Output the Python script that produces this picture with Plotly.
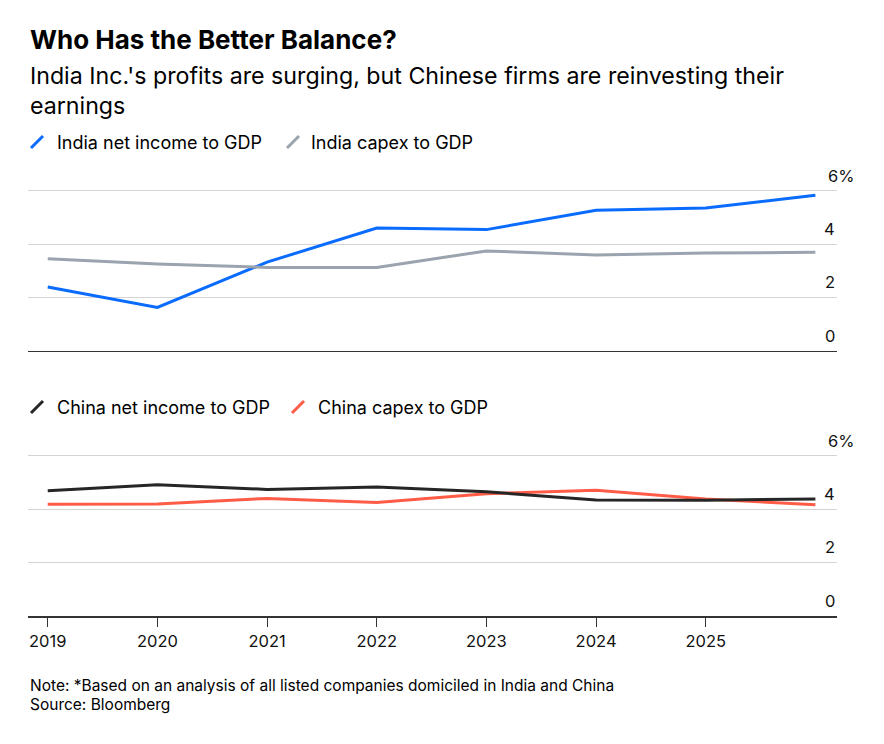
import plotly.graph_objects as go

# values (percent of GDP)
years = [2019, 2020, 2021, 2022, 2023, 2024, 2025, 2026]
tick_years = [2019, 2020, 2021, 2022, 2023, 2024, 2025]
india_net_income = [2.39, 1.62, 3.32, 4.60, 4.54, 5.27, 5.35, 5.83]
india_capex = [3.45, 3.25, 3.12, 3.12, 3.74, 3.59, 3.66, 3.69]
china_net_income = [4.69, 4.91, 4.74, 4.83, 4.65, 4.34, 4.33, 4.38]
china_capex = [4.18, 4.19, 4.40, 4.25, 4.58, 4.71, 4.38, 4.16]
y_ticks = [0, 2, 4, 6]

# page has an 8px body margin, so figure is a bit smaller than the window
OFF = 8
W, H = 868, 728
L = 28 - OFF
R = W - (837 - OFF)
FONT = 'Inter, Liberation Sans, Arial, sans-serif'

BLUE = '#0a6cff'
GREY = '#9aa3ae'
BLACK = '#262626'
RED = '#ff5c47'


def px(x):
    # screenshot pixel -> paper x
    return (x - OFF - L) / (W - L - R)


def py(y):
    return (H - (y - OFF)) / H


fig = go.Figure()
fig.add_trace(go.Scatter(x=years, y=india_net_income, mode='lines', name='India net income to GDP',
                         line=dict(color=BLUE, width=3), xaxis='x', yaxis='y'))
fig.add_trace(go.Scatter(x=years, y=india_capex, mode='lines', name='India capex to GDP',
                         line=dict(color=GREY, width=3), xaxis='x', yaxis='y'))
fig.add_trace(go.Scatter(x=years, y=china_capex, mode='lines', name='China capex to GDP',
                         line=dict(color=RED, width=3), xaxis='x2', yaxis='y2'))
fig.add_trace(go.Scatter(x=years, y=china_net_income, mode='lines', name='China net income to GDP',
                         line=dict(color=BLACK, width=3), xaxis='x2', yaxis='y2'))

xr = [2018.82, 2026.197]
yr = [0, 6.5]

fig.update_layout(
    width=W, height=H,
    margin=dict(l=L, r=R, t=0, b=0),
    paper_bgcolor='white', plot_bgcolor='white',
    showlegend=False,
    font=dict(family=FONT, color='#000000'),
    xaxis=dict(domain=[0, 1], range=xr, anchor='y', showgrid=False, showticklabels=False,
               showline=True, linecolor='#333333', linewidth=1, zeroline=False, ticks=''),
    yaxis=dict(domain=[py(350.6), py(350.6 - 6.5 * 26.65)], range=yr, anchor='x',
               tickvals=y_ticks, showticklabels=False, gridcolor='#d4d4d4', gridwidth=1,
               zeroline=False, showline=False),
    xaxis2=dict(domain=[0, 1], range=xr, anchor='y2', showgrid=False,
                tickvals=tick_years, ticktext=[str(y) for y in tick_years],
                ticks='outside', ticklen=9, tickwidth=1, tickcolor='#333333',
                tickfont=dict(size=16.5, family=FONT, color='#111111'),
                showline=True, linecolor='#333333', linewidth=2, zeroline=False),
    yaxis2=dict(domain=[py(615.7), py(615.7 - 6.5 * 26.65)], range=yr, anchor='x2',
                tickvals=y_ticks, showticklabels=False, gridcolor='#d4d4d4', gridwidth=1,
                zeroline=False, showline=False),
)

annotations = []
# title and subtitle
annotations.append(dict(text='<b>Who Has the Better Balance?</b>', x=px(28), y=py(40),
                        xanchor='left', yanchor='middle', font=dict(size=26)))
annotations.append(dict(text="India Inc.'s profits are surging, but Chinese firms are reinvesting their",
                        x=px(28), y=py(76), xanchor='left', yanchor='middle', font=dict(size=23.2)))
annotations.append(dict(text='earnings', x=px(28), y=py(106), xanchor='left', yanchor='middle',
                        font=dict(size=23.2)))

# legends
legend_items = [
    ('India net income to GDP', BLUE, 31, 55, 142),
    ('India capex to GDP', GREY, 287, 309, 142),
    ('China net income to GDP', BLACK, 31, 55, 407),
    ('China capex to GDP', RED, 292, 316, 407),
]
shapes = []
for label, col, ix, tx, cy in legend_items:
    annotations.append(dict(text=label, x=px(tx), y=py(cy), xanchor='left', yanchor='middle',
                            font=dict(size=18)))
    shapes.append(dict(type='line', xref='paper', yref='paper', x0=px(ix), y0=py(cy + 6),
                       x1=px(ix + 12), y1=py(cy - 6), line=dict(color=col, width=3)))

# y tick labels sitting above the gridlines on the right
for yref in ['y', 'y2']:
    for v in y_ticks:
        if v == 6:
            annotations.append(dict(text='6%', x=px(826), y=v, xref='paper', yref=yref,
                                    xanchor='left', yanchor='bottom', yshift=3,
                                    font=dict(size=16.5, color='#111111')))
        else:
            annotations.append(dict(text=str(v), x=1, y=v, xref='paper', yref=yref,
                                    xanchor='right', yanchor='bottom', yshift=3,
                                    font=dict(size=16.5, color='#111111')))

# footnote
annotations.append(dict(text='Note: *Based on an analysis of all listed companies domiciled in India and China',
                        x=px(28), y=py(685), xanchor='left', yanchor='middle', font=dict(size=15.5)))
annotations.append(dict(text='Source: Bloomberg', x=px(28), y=py(704), xanchor='left', yanchor='middle',
                        font=dict(size=15.5)))

for a in annotations:
    a.setdefault('xref', 'paper')
    a.setdefault('yref', 'paper')
    a['showarrow'] = False

fig.update_layout(annotations=annotations, shapes=shapes)

fig.write_html('out.html')
